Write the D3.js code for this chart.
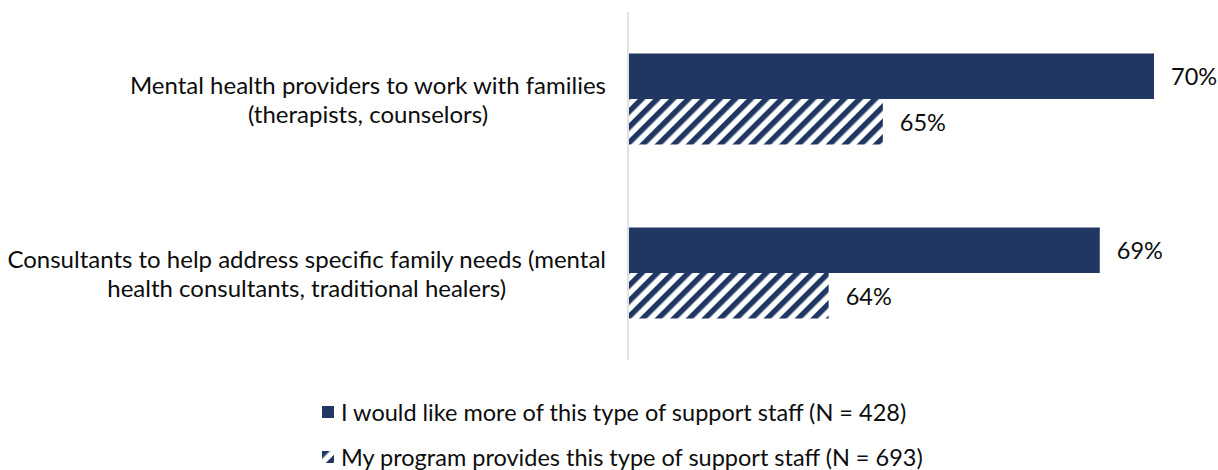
<!DOCTYPE html>
<html>
<head>
<meta charset="utf-8">
<script src="https://cdn.jsdelivr.net/npm/d3@7"></script>
<style>
  html, body { margin: 0; padding: 0; background: #fff; }
  svg { display: block; font-family: Lato, "Open Sans", sans-serif; }
</style>
</head>
<body>
<svg id="chart" width="1218" height="470"></svg>
<script>
// Support staff categories (each label split into its display lines)
const categories = [
  "Mental health providers to work with families",
  "Consultants to help address specific family needs"
];
const categoryLines = [
  ["Mental health providers to work with families", "(therapists, counselors)"],
  ["Consultants to help address specific family needs (mental", "health consultants, traditional healers)"]
];
const seriesNames = [
  "I would like more of this type of support staff (N = 428)",
  "My program provides this type of support staff (N = 693)"
];
const wantMore = [70, 69];   // % who would like more
const provides = [65, 64];   // % whose program provides it

const NAVY = "#213763";
const TEXT = "#0d0d0d";
const svg = d3.select("#chart");

// Diagonal hatch used by the "provides" series
const defs = svg.append("defs");
const pat = defs.append("pattern")
  .attr("id", "hatch")
  .attr("patternUnits", "userSpaceOnUse")
  .attr("width", 11).attr("height", 11)
  .attr("patternTransform", "rotate(45)");
pat.append("rect").attr("width", 11).attr("height", 11).attr("fill", "#fff");
pat.append("rect").attr("width", 5.5).attr("height", 11).attr("fill", NAVY);

const x0 = 628;
const x = d3.scaleLinear().domain([60.3, 70]).range([x0, 1154]);
const y = d3.scaleBand().domain(categories).range([12, 360]).padding(0);
const inner = d3.scaleBand().domain([0, 1]).range([-45.5, 45.5]).padding(0);

const rows = categories.map((c, i) => ({ cat: c, lines: categoryLines[i], vals: [wantMore[i], provides[i]] }));

// Vertical category axis line
svg.append("line")
  .attr("x1", x0).attr("x2", x0)
  .attr("y1", y.range()[0]).attr("y2", y.range()[1])
  .attr("stroke", "#d9d9d9").attr("stroke-width", 1.5);

const g = svg.selectAll("g.row").data(rows).join("g")
  .attr("class", "row")
  .attr("transform", d => `translate(0,${y(d.cat) + y.bandwidth() / 2})`);

g.selectAll("rect.bar").data(d => d.vals.map((v, k) => ({ v, k }))).join("rect")
  .attr("class", "bar")
  .attr("x", x0 + 1)
  .attr("y", d => inner(d.k))
  .attr("width", d => x(d.v) - x0 - 1)
  .attr("height", inner.bandwidth())
  .attr("fill", d => d.k === 0 ? NAVY : "url(#hatch)");

g.selectAll("text.val").data(d => d.vals.map((v, k) => ({ v, k }))).join("text")
  .attr("class", "val")
  .attr("x", d => x(d.v) + 17)
  .attr("y", d => inner(d.k) + inner.bandwidth() / 2)
  .attr("dominant-baseline", "central")
  .attr("font-size", 23.5)
  .attr("fill", TEXT)
  .text(d => d.v + "%");

// Category labels: centred lines, block right-aligned next to the axis
g.each(function (d) {
  const grp = d3.select(this);
  const t = grp.append("text")
    .attr("font-size", 24).attr("fill", TEXT)
    .attr("text-anchor", "middle");
  t.selectAll("tspan").data(d.lines).join("tspan")
    .attr("x", 0)
    .attr("y", (s, i) => (i - (d.lines.length - 1) / 2) * 29)
    .attr("dominant-baseline", "central")
    .text(s => s);
  const w = t.node().getBBox().width;
  t.attr("transform", `translate(${606 - w / 2},0)`);
});

// Legend
const legend = svg.append("g").attr("transform", "translate(322,0)");
const legY = [412, 457];
seriesNames.forEach((name, i) => {
  legend.append("rect")
    .attr("x", 0).attr("y", legY[i] - 6)
    .attr("width", 12).attr("height", 12)
    .attr("fill", i === 0 ? NAVY : "url(#hatch)");
  legend.append("text")
    .attr("x", 19).attr("y", legY[i])
    .attr("dominant-baseline", "central")
    .attr("font-size", 23.5).attr("fill", TEXT)
    .text(name);
});
</script>
</body>
</html>
